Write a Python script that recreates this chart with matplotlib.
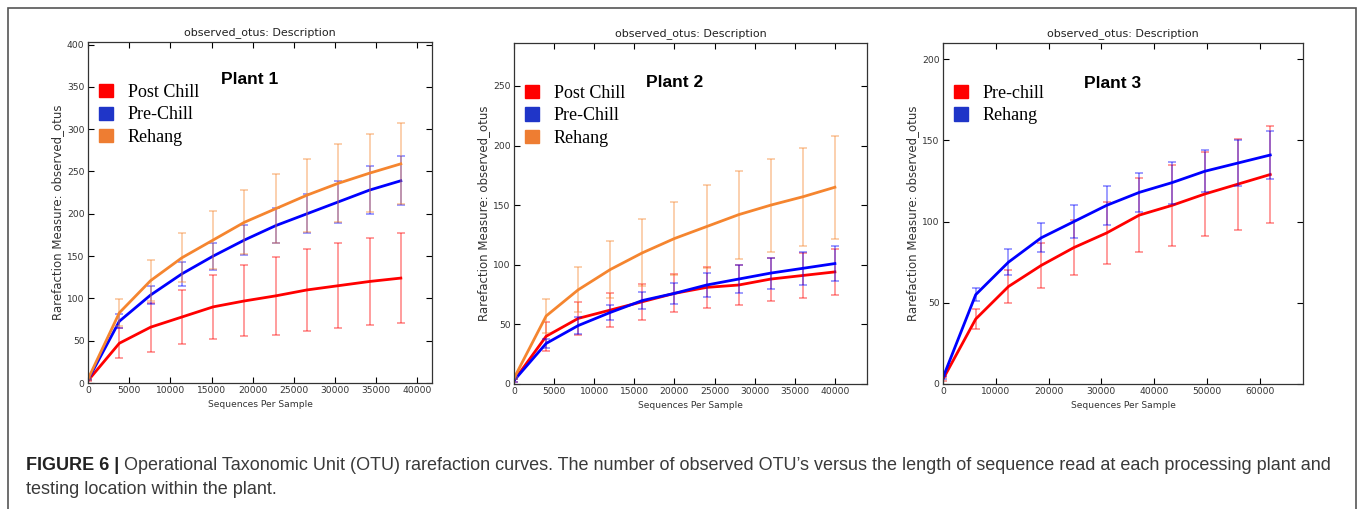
import matplotlib
matplotlib.use("Agg")
import matplotlib.pyplot as plt
from matplotlib.patches import Patch, Rectangle

# ---- data ----
# Plant 1
p1_x = [10, 3800, 7600, 11400, 15200, 19000, 22800, 26600, 30400, 34200, 38000]
p1_post = [3, 47, 66, 78, 90, 97, 103, 110, 115, 120, 124]
p1_post_err = [1, 18, 29, 32, 38, 42, 46, 48, 50, 51, 53]
p1_pre = [4, 73, 104, 129, 150, 169, 186, 200, 214, 228, 239]
p1_pre_err = [1, 8, 11, 14, 16, 18, 21, 23, 25, 28, 29]
p1_reh = [5, 83, 121, 148, 169, 190, 206, 222, 236, 248, 259]
p1_reh_err = [1, 16, 24, 29, 34, 38, 41, 43, 46, 46, 48]

# Plant 2
p2_x = [10, 4000, 8000, 12000, 16000, 20000, 24000, 28000, 32000, 36000, 40000]
p2_post = [3, 40, 55, 62, 69, 76, 81, 83, 88, 91, 94]
p2_post_err = [1, 12, 14, 14, 15, 16, 17, 17, 18, 19, 19]
p2_pre = [3, 34, 49, 60, 70, 76, 83, 88, 93, 97, 101]
p2_pre_err = [1, 4, 7, 6, 7, 9, 10, 12, 13, 14, 15]
p2_reh = [5, 57, 79, 96, 110, 122, 132, 142, 150, 157, 165]
p2_reh_err = [1, 14, 19, 24, 28, 31, 35, 37, 39, 41, 43]

# Plant 3
p3_x = [10, 6200, 12400, 18600, 24800, 31000, 37200, 43400, 49600, 55800, 62000]
p3_pre = [3, 40, 60, 73, 84, 93, 104, 110, 117, 123, 129]
p3_pre_err = [1, 6, 10, 14, 17, 19, 23, 25, 26, 28, 30]
p3_reh = [4, 55, 75, 90, 100, 110, 118, 124, 131, 136, 141]
p3_reh_err = [1, 4, 8, 9, 10, 12, 12, 13, 13, 14, 15]

RED = "#ff0000"
BLUE = "#0000ff"
ORANGE = "#f5852f"
SW_RED = "#ff0000"
SW_BLUE = "#1f35c8"
SW_ORANGE = "#ee7d32"

panels = [
    dict(rect=[0.0649, 0.2475, 0.2535, 0.670], x=p1_x,
         series=[("Post Chill", p1_post, p1_post_err, RED, SW_RED),
                 ("Pre-Chill", p1_pre, p1_pre_err, BLUE, SW_BLUE),
                 ("Rehang", p1_reh, p1_reh_err, ORANGE, SW_ORANGE)],
         xmax=41800, xstep=5000, xtop=40000, ymax=403, ytop=400, name="Plant 1",
         name_pos=(0.47, 0.89)),
    dict(rect=[0.3788, 0.2456, 0.2601, 0.670], x=p2_x,
         series=[("Post Chill", p2_post, p2_post_err, RED, SW_RED),
                 ("Pre-Chill", p2_pre, p2_pre_err, BLUE, SW_BLUE),
                 ("Rehang", p2_reh, p2_reh_err, ORANGE, SW_ORANGE)],
         xmax=44000, xstep=5000, xtop=40000, ymax=286, ytop=250, name="Plant 2",
         name_pos=(0.455, 0.885)),
    dict(rect=[0.6949, 0.2456, 0.2653, 0.670], x=p3_x,
         series=[("Pre-chill", p3_pre, p3_pre_err, RED, SW_RED),
                 ("Rehang", p3_reh, p3_reh_err, BLUE, SW_BLUE)],
         xmax=68200, xstep=10000, xtop=60000, ymax=210, ytop=200, name="Plant 3",
         name_pos=(0.47, 0.88)),
]

fig = plt.figure(figsize=(13.57, 5.09), dpi=100)

# outer frame of the figure
fig.patches.append(Rectangle((8 / 1357, -0.01), 1347.5 / 1357, (509 - 7.5) / 509 + 0.01,
                             transform=fig.transFigure, fill=False,
                             edgecolor="#555555", linewidth=1.2))

for p in panels:
    ax = fig.add_axes(p["rect"])
    handles = []
    for label, y, err, col, sw in p["series"]:
        ax.errorbar(p["x"], y, yerr=err, color=col, ecolor=col, elinewidth=1.2,
                    capsize=3, capthick=1.2, alpha=0.45, linestyle="none")
        ax.plot(p["x"], y, color=col, linewidth=2)
        handles.append(Patch(facecolor=sw, edgecolor=sw, label=label))
    ax.set_xlim(0, p["xmax"])
    ax.set_ylim(0, p["ymax"])
    ax.set_xticks(range(0, p["xtop"] + 1, p["xstep"]))
    ax.set_yticks(range(0, p["ytop"] + 1, 50))
    ax.tick_params(direction="in", top=True, right=True, length=4, width=0.8,
                   labelsize=6.6, labelcolor="#333333", pad=2.5)
    for s in ax.spines.values():
        s.set_linewidth(0.9)
        s.set_color("#333333")
    ax.set_title("observed_otus: Description", fontsize=8, color="#222222", pad=5)
    ax.set_xlabel("Sequences Per Sample", fontsize=6.6, color="#333333", labelpad=3)
    ax.set_ylabel("Rarefaction Measure: observed_otus", fontsize=8.5, color="#333333",
                  labelpad=2)
    ax.text(p["name_pos"][0], p["name_pos"][1], p["name"], transform=ax.transAxes,
            ha="center", va="center", fontsize=12.5, fontweight="bold",
            family="Liberation Sans")
    ax.legend(handles=handles, loc="upper left", bbox_to_anchor=(0.01, 0.898),
              frameon=False, prop={"family": "Liberation Serif", "size": 13},
              handlelength=0.8, handleheight=0.75, handletextpad=0.8,
              labelspacing=0.3, borderaxespad=0)

# caption
renderer = fig.canvas.get_renderer()
cap_size = 13
t_bold = fig.text(26 / 1357, 1 - 466 / 509, "FIGURE 6 |", fontsize=cap_size,
                  fontweight="bold", family="Liberation Sans", color="#222222",
                  va="center")
bb = t_bold.get_window_extent(renderer=renderer)
fig.text((bb.x1 + 5) / 1357, 1 - 466 / 509,
         "Operational Taxonomic Unit (OTU) rarefaction curves. The number of observed "
         "OTU\u2019s versus the length of sequence read at each processing plant and",
         fontsize=cap_size, family="Liberation Sans", color="#3a3a3a", va="center")
fig.text(26 / 1357, 1 - 490 / 509, "testing location within the plant.",
         fontsize=cap_size, family="Liberation Sans", color="#3a3a3a", va="center")

fig.savefig("out.png", dpi=100)
